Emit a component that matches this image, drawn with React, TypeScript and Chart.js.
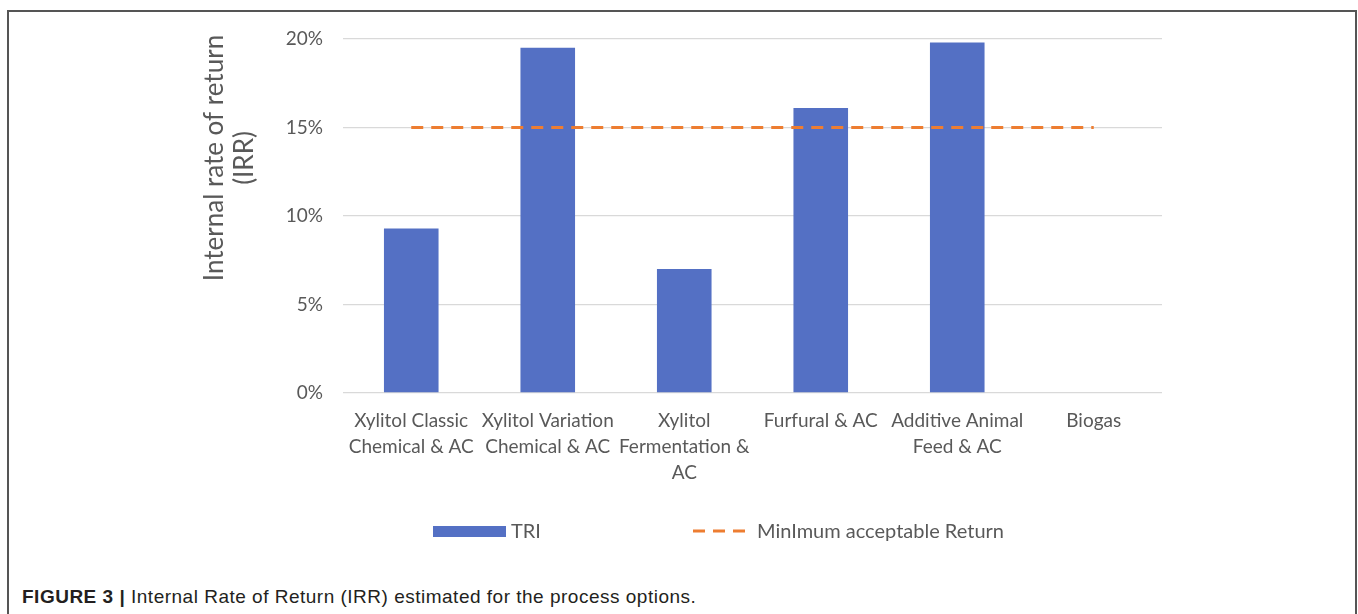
import React, { useEffect, useRef } from "react";
import { Chart, registerables } from "chart.js";

Chart.register(...registerables);

const categories: (string | string[])[] = [
  ["Xylitol Classic", "Chemical & AC"],
  ["Xylitol Variation", "Chemical & AC"],
  ["Xylitol", "Fermentation &", "AC"],
  "Furfural & AC",
  ["Additive Animal", "Feed & AC"],
  "Biogas",
];
const irrValues = [9.3, 19.5, 7.0, 16.1, 19.8, 0];
const minAcceptable = [15, 15, 15, 15, 15, 15];
const yTicks = [0, 5, 10, 15, 20];
const seriesNames = ["TRI", "MinImum acceptable Return"];
const yTitleLines = ["Internal rate of return", "(IRR)"];

const FONT = "Lato, 'Open Sans', sans-serif";
const GRAY = "#595959";
const BAR_COLOR = "#5470C4";
const LINE_COLOR = "#ED7D31";

export default function App() {
  const ref = useRef<HTMLCanvasElement>(null);

  useEffect(() => {
    if (!ref.current) return;

    const yTitlePlugin = {
      id: "yTitle",
      afterDraw(chart: any) {
        const { ctx, chartArea } = chart;
        ctx.save();
        ctx.fillStyle = GRAY;
        ctx.font = `26px ${FONT}`;
        ctx.textAlign = "center";
        ctx.textBaseline = "alphabetic";
        const cy = chartArea.top + 119;
        const xs = [chartArea.left - 120, chartArea.left - 90];
        yTitleLines.forEach((t, i) => {
          ctx.save();
          ctx.translate(xs[i], cy);
          ctx.rotate(-Math.PI / 2);
          ctx.fillText(t, 0, 0);
          ctx.restore();
        });
        ctx.restore();
      },
    };

    const legendPlugin = {
      id: "customLegend",
      afterDraw(chart: any) {
        const { ctx } = chart;
        const ds = chart.data.datasets;
        const y = 531;
        ctx.save();
        ctx.font = `20px ${FONT}`;
        ctx.textBaseline = "middle";
        ctx.textAlign = "left";
        ctx.fillStyle = ds[0].backgroundColor;
        ctx.fillRect(433, y - 5, 73, 11);
        ctx.fillStyle = GRAY;
        ctx.fillText(ds[0].label, 511, y + 1);
        ctx.strokeStyle = ds[1].borderColor;
        ctx.lineWidth = ds[1].borderWidth;
        ctx.setLineDash(ds[1].borderDash);
        ctx.beginPath();
        ctx.moveTo(693, y);
        ctx.lineTo(748, y);
        ctx.stroke();
        ctx.setLineDash([]);
        ctx.fillText(ds[1].label, 757, y + 1);
        ctx.restore();
      },
    };

    const chart = new Chart(ref.current, {
      type: "bar",
      data: {
        labels: categories as any,
        datasets: [
          {
            type: "bar",
            label: seriesNames[0],
            data: irrValues,
            backgroundColor: BAR_COLOR,
            barPercentage: 0.4,
            categoryPercentage: 1.0,
            order: 1,
          } as any,
          {
            type: "line",
            label: seriesNames[1],
            data: minAcceptable,
            borderColor: LINE_COLOR,
            borderWidth: 3,
            borderDash: [12, 8],
            pointRadius: 0,
            fill: false,
            order: 0,
          } as any,
        ],
      },
      options: {
        animation: false,
        responsive: true,
        maintainAspectRatio: false,
        layout: { padding: { top: 39, right: 196, bottom: 0, left: 0 } },
        plugins: {
          legend: { display: false },
          tooltip: { enabled: false },
          title: { display: false },
        },
        scales: {
          x: {
            grid: { display: false, drawTicks: false },
            border: { display: false },
            ticks: {
              color: GRAY,
              font: { family: FONT, size: 19, lineHeight: 1.37 },
              padding: 15,
              maxRotation: 0,
              minRotation: 0,
              autoSkip: false,
            },
            afterFit: (s: any) => {
              s.height = 172;
            },
          },
          y: {
            min: 0,
            max: 20,
            afterBuildTicks: (s: any) => {
              s.ticks = yTicks.map((v) => ({ value: v }));
            },
            ticks: {
              callback: (v: any) => `${v}%`,
              color: GRAY,
              font: { family: FONT, size: 19 },
              padding: 20,
            },
            grid: { color: "#D9D9D9", lineWidth: 1.3, drawTicks: false },
            border: { display: false },
            afterFit: (s: any) => {
              s.width = 343;
            },
          },
        },
      },
      plugins: [yTitlePlugin, legendPlugin],
    } as any);

    return () => chart.destroy();
  }, []);

  return (
    <div
      style={{
        position: "absolute",
        left: 0,
        top: 0,
        width: 1358,
        height: 614,
        overflow: "hidden",
        background: "#fff",
      }}
    >
      <div
        style={{
          position: "absolute",
          left: 7,
          top: 10,
          width: 1350,
          height: 700,
          boxSizing: "border-box",
          border: "2px solid #555",
        }}
      />
      <div style={{ position: "absolute", left: 0, top: 0, width: 1358, height: 565 }}>
        <canvas ref={ref} />
      </div>
      <div
        style={{
          position: "absolute",
          left: 22,
          top: 586,
          fontFamily: "'Liberation Sans', Arial, sans-serif",
          fontSize: 19,
          letterSpacing: 0.5,
          lineHeight: "21px",
          color: "#231f20",
          whiteSpace: "nowrap",
        }}
      >
        <b>FIGURE 3 |</b> Internal Rate of Return (IRR) estimated for the process options.
      </div>
    </div>
  );
}
